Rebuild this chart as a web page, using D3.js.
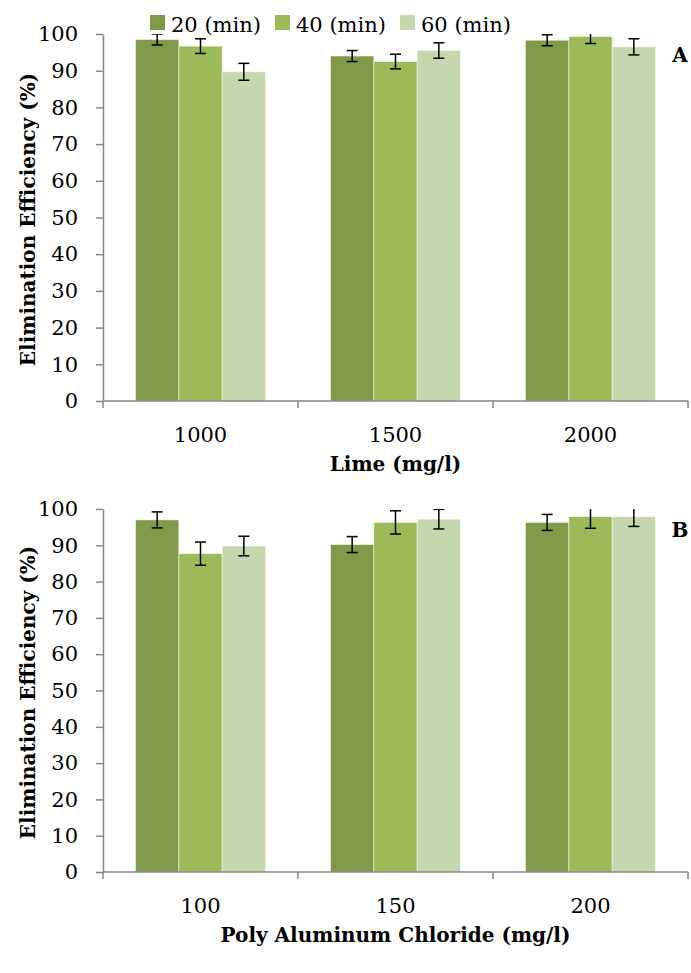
<!DOCTYPE html>
<html>
<head>
<meta charset="utf-8">
<script src="https://cdn.jsdelivr.net/npm/d3@7"></script>
<style>
  body { margin: 0; background: #fff; }
  text { font-family: "DejaVu Serif", "Liberation Serif", serif; }
</style>
</head>
<body>
<div id="chart-area"></div>
<script>
// data
const series = ["20 (min)", "40 (min)", "60 (min)"]
const colors = ["#7f9b4a", "#9bbb59", "#c6d7ae"]

const limeDoses = ["1000", "1500", "2000"]
const limeValues = [[98.5, 96.7, 89.7], [94.0, 92.5, 95.5], [98.3, 99.3, 96.5]]
const limeErrors = [[1.5, 2.0, 2.3], [1.5, 2.0, 2.1], [1.5, 1.9, 2.2]]

const pacDoses = ["100", "150", "200"]
const pacValues = [[97.0, 87.7, 89.8], [90.2, 96.3, 97.2], [96.3, 97.9, 97.9]]
const pacErrors = [[2.2, 3.2, 2.7], [2.2, 3.2, 2.7], [2.2, 3.2, 2.7]]

const yTicks = [0, 10, 20, 30, 40, 50, 60, 70, 80, 90, 100]

const svgWidth = 691
const svgHeight = 973
const axisColor = "#868686"

const svg = d3.select("#chart-area")
    .append("svg")
    .attr("width", svgWidth)
    .attr("height", svgHeight)

function drawPanel(opts) {
    const left = 103, right = 688
    const top = opts.top, bottom = opts.bottom

    const x0 = d3.scaleBand()
        .domain(opts.cats)
        .range([left, right])
        .paddingInner(1 / 3)
        .paddingOuter(1 / 6)
    const x1 = d3.scaleBand()
        .domain(d3.range(series.length))
        .range([0, x0.bandwidth()])
    const y = d3.scaleLinear().domain([0, 100]).range([bottom, top])

    const g = svg.append("g")

    const clipId = "clip-" + opts.letter
    svg.append("clipPath").attr("id", clipId)
        .append("rect")
        .attr("x", left).attr("y", top)
        .attr("width", right - left).attr("height", bottom - top)

    // bars
    const groups = g.selectAll(".grp")
        .data(opts.cats)
        .enter().append("g")
        .attr("transform", d => `translate(${x0(d)},0)`)

    groups.selectAll("rect")
        .data((d, i) => opts.values[i].map((v, j) => ({ v, j })))
        .enter().append("rect")
        .attr("x", d => x1(d.j))
        .attr("y", d => y(d.v))
        .attr("width", x1.bandwidth())
        .attr("height", d => y(0) - y(d.v))
        .attr("fill", d => colors[d.j])
        .attr("stroke", "rgba(255,255,255,0.6)")
        .attr("stroke-width", 0.8)

    // error bars, clipped to the plot area like the original
    const errG = g.append("g").attr("clip-path", `url(#${clipId})`)
    opts.cats.forEach((c, i) => {
        opts.values[i].forEach((v, j) => {
            const e = opts.errors[i][j]
            const cx = x0(c) + x1(j) + x1.bandwidth() / 2
            const hi = y(v + e), lo = y(v - e)
            errG.append("line").attr("x1", cx).attr("x2", cx).attr("y1", hi).attr("y2", lo)
                .attr("stroke", "#000").attr("stroke-width", 1.5)
            ;[hi, lo].forEach(yy => {
                errG.append("line").attr("x1", cx - 5.5).attr("x2", cx + 5.5).attr("y1", yy).attr("y2", yy)
                    .attr("stroke", "#000").attr("stroke-width", 1.5)
            })
        })
    })

    // y axis
    const yAxis = g.append("g")
        .attr("transform", `translate(${left},0)`)
        .call(d3.axisLeft(y).tickValues(yTicks).tickSize(7).tickPadding(18).tickSizeOuter(0))
    yAxis.select(".domain").attr("stroke", axisColor).attr("stroke-width", 1.5)
    yAxis.selectAll(".tick line").attr("stroke", axisColor).attr("stroke-width", 1.5)
    yAxis.selectAll(".tick text").attr("font-size", 21).attr("fill", "#000")
        .style("font-family", "DejaVu Serif")

    // x axis with ticks at category boundaries
    const xAxis = g.append("g").attr("transform", `translate(0,${bottom})`)
    xAxis.append("line").attr("x1", left).attr("x2", right)
        .attr("stroke", axisColor).attr("stroke-width", 1.5)
    const bounds = opts.cats.map(c => x0(c) - x0.step() * x0.paddingInner() / 2)
    bounds.push(right)
    xAxis.selectAll(".xt").data(bounds).enter().append("line")
        .attr("x1", d => d).attr("x2", d => d).attr("y1", 0).attr("y2", 7)
        .attr("stroke", axisColor).attr("stroke-width", 1.5)
    xAxis.selectAll(".xl").data(opts.cats).enter().append("text")
        .attr("x", d => x0(d) + x0.bandwidth() / 2)
        .attr("y", 41)
        .attr("text-anchor", "middle")
        .attr("font-size", 21)
        .text(d => d)

    // axis titles
    svg.append("text")
        .attr("x", (left + right) / 2)
        .attr("y", bottom + 70)
        .attr("text-anchor", "middle")
        .attr("font-size", 20)
        .attr("font-weight", "bold")
        .text(opts.xTitle)

    svg.append("text")
        .attr("transform", `translate(35,${(top + bottom) / 2 + 2}) rotate(-90)`)
        .attr("text-anchor", "middle")
        .attr("font-size", 20)
        .attr("font-weight", "bold")
        .text("Elimination Efficiency (%)")

    svg.append("text")
        .attr("x", 680).attr("y", top + 28)
        .attr("text-anchor", "middle")
        .attr("font-size", 20)
        .attr("font-weight", "bold")
        .text(opts.letter)
}

drawPanel({ cats: limeDoses, values: limeValues, errors: limeErrors, top: 34, bottom: 401, xTitle: "Lime (mg/l)", letter: "A" })
drawPanel({ cats: pacDoses, values: pacValues, errors: pacErrors, top: 509, bottom: 872, xTitle: "Poly Aluminum Chloride (mg/l)", letter: "B" })

// legend
const legend = svg.append("g")
const legX = [150, 275, 400]
series.forEach((s, i) => {
    legend.append("rect").attr("x", legX[i]).attr("y", 15).attr("width", 15).attr("height", 15).attr("fill", colors[i])
    legend.append("text").attr("x", legX[i] + 21).attr("y", 32).attr("font-size", 21).text(s)
})
</script>
</body>
</html>
